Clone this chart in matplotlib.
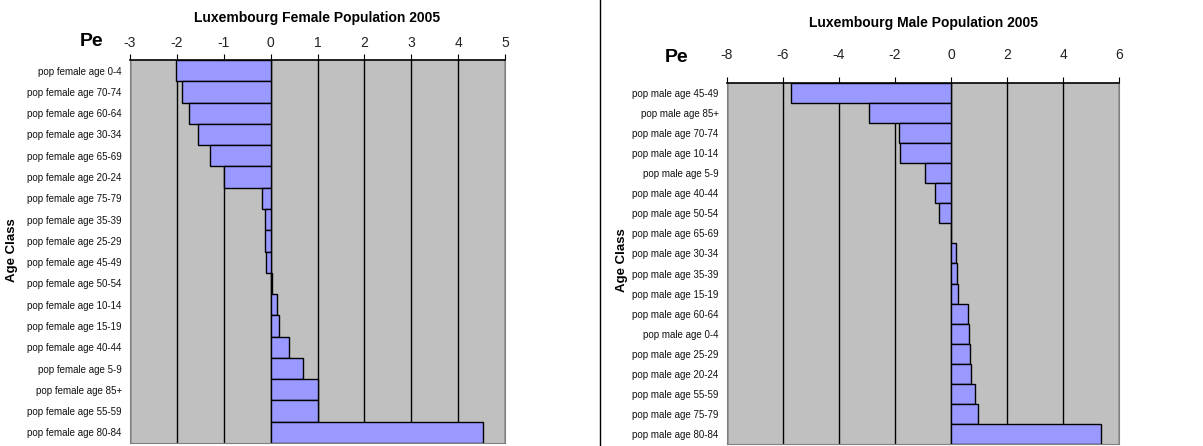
#!/usr/bin/env python3
"""
Luxembourg population 2005: female and male bar charts side by side
"""

import matplotlib
matplotlib.use('Agg')
import matplotlib.pyplot as plt

plt.rcParams['font.family'] = ['Liberation Sans', 'DejaVu Sans']

female_labels = ['pop female age 0-4', 'pop female age 70-74', 'pop female age 60-64',
                 'pop female age 30-34', 'pop female age 65-69', 'pop female age 20-24',
                 'pop female age 75-79', 'pop female age 35-39', 'pop female age 25-29',
                 'pop female age 45-49', 'pop female age 50-54', 'pop female age 10-14',
                 'pop female age 15-19', 'pop female age 40-44', 'pop female age 5-9',
                 'pop female age 85+', 'pop female age 55-59', 'pop female age 80-84']
female_values = [-2.03, -1.90, -1.74, -1.54, -1.30, -0.99, -0.18, -0.13, -0.13,
                 -0.09, 0.02, 0.13, 0.17, 0.39, 0.70, 1.00, 1.02, 4.53]
female_ticks = [-3, -2, -1, 0, 1, 2, 3, 4, 5]

male_labels = ['pop male age 45-49', 'pop male age 85+', 'pop male age 70-74',
               'pop male age 10-14', 'pop male age 5-9', 'pop male age 40-44',
               'pop male age 50-54', 'pop male age 65-69', 'pop male age 30-34',
               'pop male age 35-39', 'pop male age 15-19', 'pop male age 60-64',
               'pop male age 0-4', 'pop male age 25-29', 'pop male age 20-24',
               'pop male age 55-59', 'pop male age 75-79', 'pop male age 80-84']
male_values = [-5.72, -2.92, -1.85, -1.81, -0.93, -0.58, -0.43, 0.0, 0.19,
               0.23, 0.26, 0.61, 0.64, 0.67, 0.70, 0.86, 0.95, 5.34]
male_ticks = [-8, -6, -4, -2, 0, 2, 4, 6]

BAR_COLOR = '#9999FF'
BG_COLOR = '#C0C0C0'


def draw_panel(ax, labels, values, ticks, title, title_y, pe_x, pe_y,
               ylab_x, ylab_y, tick_pad, fig):
    ax.set_facecolor(BG_COLOR)
    pos = list(range(len(labels)))
    ax.barh(pos, values, height=1.0, color=BAR_COLOR, edgecolor='black', linewidth=1.0,
            zorder=3)
    ax.set_ylim(len(labels) - 0.5, -0.5)
    ax.set_xlim(ticks[0], ticks[-1])
    ax.set_xticks(ticks)
    ax.set_xticklabels([str(t) for t in ticks], fontsize=10, color='#222222')
    ax.xaxis.tick_top()
    ax.tick_params(axis='x', direction='out', length=4, pad=tick_pad, color='black')
    ax.set_yticks(pos)
    ax.set_yticklabels(labels, fontsize=7, color='#111111')
    ax.tick_params(axis='y', length=0, pad=6)
    ax.grid(axis='x', color='black', linewidth=1.0, zorder=1)
    for side in ['left', 'right', 'bottom']:
        ax.spines[side].set_color('#808080')
    ax.spines['top'].set_color('black')
    ax.spines['top'].set_linewidth(1.2)

    fig.text(ax.get_position().x0 + ax.get_position().width / 2, title_y, title,
             ha='center', va='center', fontsize=10, fontweight='bold')
    fig.text(pe_x, pe_y, 'Pe', ha='center', va='center', fontsize=14, fontweight='bold')
    fig.text(ylab_x, ylab_y, 'Age Class', ha='center', va='center', rotation=90,
             fontsize=9.5, fontweight='bold')


def main():
    fig = plt.figure(figsize=(12.03, 4.46), dpi=100)

    ax1 = fig.add_axes([0.1081, 0.0067, 0.3117, 0.8587])
    ax2 = fig.add_axes([0.6043, 0.0045, 0.3259, 0.8094])

    draw_panel(ax1, female_labels, female_values, female_ticks,
               'Luxembourg Female Population 2005', 1 - 18 / 446,
               92 / 1203, 1 - 42 / 446, 12 / 1203, 1 - 250 / 446, 3, fig)
    draw_panel(ax2, male_labels, male_values, male_ticks,
               'Luxembourg Male Population 2005', 1 - 23 / 446,
               677 / 1203, 1 - 57 / 446, 622 / 1203, 1 - 260 / 446, 11, fig)

    # separador entre los dos graficos
    fig.add_artist(plt.Line2D([599.5 / 1203, 599.5 / 1203], [0, 1], color='black',
                              linewidth=1.0, transform=fig.transFigure))

    plt.savefig('out.png', dpi=100)
    plt.close()


if __name__ == "__main__":
    main()
